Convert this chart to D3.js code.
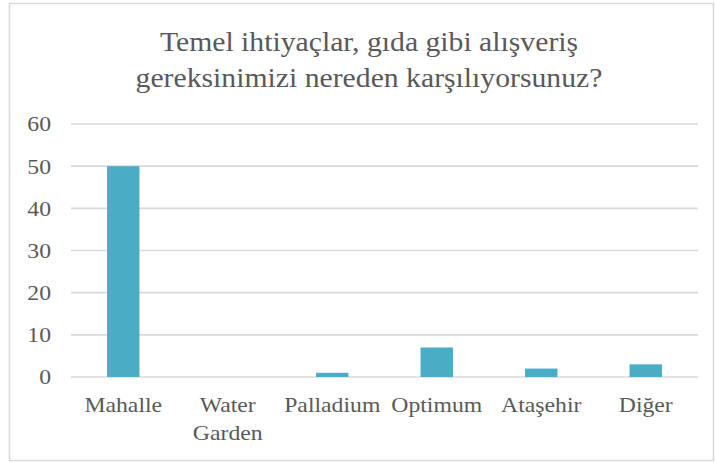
<!DOCTYPE html>
<html>
<head>
<meta charset="utf-8">
<script src="https://cdn.jsdelivr.net/npm/d3@7"></script>
<style>
  html, body { margin: 0; padding: 0; background: #ffffff; }
  svg { display: block; }
  text { font-family: "Liberation Serif", "Times New Roman", serif; fill: #595959; }
</style>
</head>
<body>
<svg id="chart" width="715" height="463"></svg>
<script>
// Survey answers: where basic shopping needs are met
const categories = ["Mahalle", "Water Garden", "Palladium", "Optimum", "Ataşehir", "Diğer"];
const counts = [50, 0, 1, 7, 2, 3];
const yTicks = [0, 10, 20, 30, 40, 50, 60];
const titleLines = ["Temel ihtiyaçlar, gıda gibi alışveriş", "gereksinimizi nereden karşılıyorsunuz?"];

const svg = d3.select("#chart");
const plot = { left: 71, right: 698, top: 124, bottom: 377 };
const widen = 1.13; // glyphs are set slightly wide

// place a text element at (px, py) with the horizontal widening applied
function placeText(sel, px, py) {
  return sel.attr("transform", `translate(${px},${py}) scale(${widen},1)`);
}

// chart frame
svg.append("rect")
  .attr("x", 9.5).attr("y", 3.5)
  .attr("width", 704).attr("height", 457)
  .attr("fill", "#ffffff")
  .attr("stroke", "#d9d9d9")
  .attr("stroke-width", 1.5);

const x = d3.scaleBand()
  .domain(categories)
  .range([plot.left, plot.right])
  .padding(0);

const y = d3.scaleLinear()
  .domain([0, 60])
  .range([plot.bottom, plot.top]);

// horizontal gridlines
svg.append("g")
  .selectAll("line")
  .data(yTicks)
  .join("line")
  .attr("x1", plot.left).attr("x2", plot.right)
  .attr("y1", d => y(d)).attr("y2", d => y(d))
  .attr("stroke", "#d9d9d9")
  .attr("stroke-width", 1.6);

// y tick labels
svg.append("g")
  .selectAll("text")
  .data(yTicks)
  .join("text")
  .each(function (d) { placeText(d3.select(this), 51, y(d)); })
  .attr("dy", "0.35em")
  .attr("text-anchor", "end")
  .attr("font-size", 21)
  .text(d => d);

// bars
const barW = x.bandwidth() * 0.31;
svg.append("g")
  .selectAll("rect")
  .data(categories.map((c, i) => ({ c, v: counts[i] })))
  .join("rect")
  .attr("x", d => x(d.c) + (x.bandwidth() - barW) / 2)
  .attr("width", barW)
  .attr("y", d => y(d.v))
  .attr("height", d => y(0) - y(d.v))
  .attr("fill", "#4bacc6");

// category labels (wrapped onto two lines when long)
const catG = svg.append("g");
categories.forEach(c => {
  const words = c.split(" ");
  const cx = x(c) + x.bandwidth() / 2;
  const t = catG.append("text")
    .attr("text-anchor", "middle")
    .attr("font-size", 21);
  placeText(t, cx, 412);
  if (words.length > 1 && c.length > 10) {
    words.forEach((w, i) => {
      t.append("tspan")
        .attr("x", 0)
        .attr("dy", i === 0 ? 0 : 28)
        .text(w);
    });
  } else {
    t.text(c);
  }
});

// title
svg.append("g")
  .selectAll("text")
  .data(titleLines)
  .join("text")
  .each(function (d, i) { placeText(d3.select(this), 369, 51 + i * 36); })
  .attr("text-anchor", "middle")
  .attr("font-size", 26.3)
  .text(d => d);
</script>
</body>
</html>
